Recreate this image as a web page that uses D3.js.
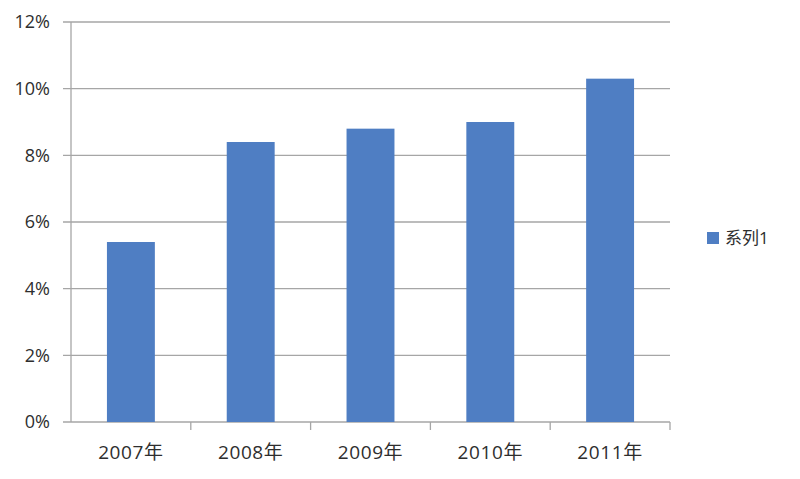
<!DOCTYPE html>
<html><head><meta charset="utf-8">
<script src="https://cdn.jsdelivr.net/npm/d3@7"></script>
<style>body{margin:0;background:#fff}svg{display:block}text{font-family:"Open Sans","Noto Sans CJK SC",sans-serif;fill:#2e2e2e}</style>
</head><body>
<script>
const categories = ["2007年","2008年","2009年","2010年","2011年"];
const values = [5.4, 8.4, 8.8, 9.0, 10.3];
const yTicks = [0,2,4,6,8,10,12];
const seriesName = "系列1";

const W=800,H=479;
const svg=d3.select("body").append("svg").attr("width",W).attr("height",H);
const pL=71,pR=670,pT=22,pB=422;
const x=d3.scaleBand().domain(categories).range([pL,pR]).paddingInner(0.6).paddingOuter(0.3);
const xb=d3.scaleBand().domain(categories).range([pL,pR]);
const y=d3.scaleLinear().domain([0,12]).range([pB,pT]);

// gridlines
svg.append("g").selectAll("line").data(yTicks).join("line")
  .attr("x1",pL-8).attr("x2",pR).attr("y1",d=>y(d)).attr("y2",d=>y(d))
  .attr("stroke","#a6a6a6").attr("stroke-width",1.3);
// y axis line
svg.append("line").attr("x1",pL).attr("x2",pL).attr("y1",pT).attr("y2",pB)
  .attr("stroke","#a6a6a6").attr("stroke-width",1.3);
// y labels
svg.append("g").selectAll("text").data(yTicks).join("text")
  .attr("x",50).attr("y",d=>y(d)).attr("dy","0.35em").attr("text-anchor","end")
  .attr("font-size",18).text(d=>d+"%");
// category tick marks
svg.append("g").selectAll("line").data(categories).join("line")
  .attr("x1",d=>xb(d)+xb.bandwidth()).attr("x2",d=>xb(d)+xb.bandwidth())
  .attr("y1",pB).attr("y2",pB+8).attr("stroke","#a6a6a6").attr("stroke-width",1.3);
// bars
svg.append("g").selectAll("rect").data(values).join("rect")
  .attr("x",(d,i)=>x(categories[i])).attr("width",x.bandwidth())
  .attr("y",d=>y(d)).attr("height",d=>pB-y(d))
  .attr("fill","#4f7ec3");
// x labels
svg.append("g").selectAll("text").data(categories).join("text")
  .attr("x",d=>xb(d)+xb.bandwidth()/2).attr("y",452).attr("dy","0.35em")
  .attr("text-anchor","middle").attr("font-size",19).attr("letter-spacing",0.6).text(d=>d);
// legend
svg.append("rect").attr("x",707).attr("y",232).attr("width",12).attr("height",12).attr("fill","#4f7ec3");
svg.append("text").attr("x",725).attr("y",238).attr("dy","0.35em").attr("font-size",17).text(seriesName);
</script>
</body></html>
